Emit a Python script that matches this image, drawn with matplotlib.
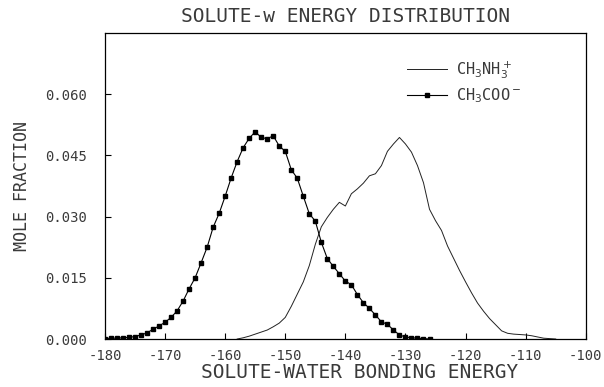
import matplotlib
matplotlib.use("Agg")
import matplotlib.pyplot as plt
import numpy as np

# === Data ===
# CH3COO- : one point per energy unit
acetate_energy = np.arange(-180, -125)
acetate_frac = [
    0.0001, 0.0002, 0.0002, 0.0003, 0.0004, 0.0006, 0.0010, 0.0015, 0.0024, 0.0032,
    0.0041, 0.0053, 0.0069, 0.0093, 0.0123, 0.0150, 0.0187, 0.0225, 0.0274, 0.0308,
    0.0350, 0.0395, 0.0435, 0.0469, 0.0492, 0.0508, 0.0494, 0.0491, 0.0498, 0.0473,
    0.0460, 0.0415, 0.0394, 0.0350, 0.0307, 0.0289, 0.0237, 0.0197, 0.0178, 0.0160,
    0.0142, 0.0133, 0.0109, 0.0089, 0.0075, 0.0059, 0.0042, 0.0036, 0.0022, 0.0010,
    0.0005, 0.0003, 0.0002, 0.0001, 0.0000,
]

# CH3NH3+ : thin line
ammonium_energy = np.arange(-158, -104)
ammonium_frac = [
    0.0000, 0.0003, 0.0007, 0.0012, 0.0017, 0.0022, 0.0030, 0.0039, 0.0053, 0.0080,
    0.0110, 0.0140, 0.0180, 0.0232, 0.0275, 0.0298, 0.0318, 0.0335, 0.0326, 0.0356,
    0.0368, 0.0382, 0.0400, 0.0405, 0.0425, 0.0460, 0.0478, 0.0494, 0.0478, 0.0458,
    0.0425, 0.0383, 0.0318, 0.0290, 0.0266, 0.0228, 0.0198, 0.0168, 0.0140, 0.0113,
    0.0088, 0.0068, 0.0050, 0.0035, 0.0020, 0.0014, 0.0012, 0.0011, 0.0010, 0.0008,
    0.0005, 0.0002, 0.0001, 0.0000,
]

x_ticks = np.arange(-180, -99, 10)
y_ticks = [0.000, 0.015, 0.030, 0.045, 0.060]

plt.rcParams['font.family'] = ['DejaVu Sans Mono', 'DejaVu Sans']
txt_color = '#3a3a3a'

fig = plt.figure(figsize=(6.04, 3.87), dpi=100)
ax = fig.add_axes([0.1738, 0.124, 0.796, 0.7907])

ax.plot(ammonium_energy, ammonium_frac, color='#222222', linewidth=0.7,
        label='CH$_3$NH$_3^+$')
ax.plot(acetate_energy, acetate_frac, color='black', linewidth=0.8,
        marker='s', markersize=3.2, label='CH$_3$COO$^-$')

ax.set_xlim(-180, -100)
ax.set_ylim(0, 0.075)
ax.set_xticks(x_ticks)
ax.set_xticklabels([str(v) for v in x_ticks])
ax.set_yticks(y_ticks)
ax.set_yticklabels(['%.3f' % v for v in y_ticks])
ax.tick_params(direction='in', length=4, width=0.8, labelsize=10,
               labelcolor=txt_color, pad=7)
ax.tick_params(axis='y', pad=13)
for sp in ax.spines.values():
    sp.set_linewidth(0.9)

ax.set_title('SOLUTE-w ENERGY DISTRIBUTION', fontsize=14, color=txt_color, pad=8)
ax.set_xlabel('SOLUTE-WATER BONDING ENERGY', fontsize=14, color=txt_color)
ax.xaxis.set_label_coords(0.53, -0.08)
ax.set_ylabel('MOLE FRACTION', fontsize=12, color=txt_color, labelpad=10)

ax.legend(loc='upper left', bbox_to_anchor=(0.60, 0.96), frameon=False,
          fontsize=11, handlelength=2.6, handletextpad=0.6, labelspacing=0.35,
          labelcolor=txt_color)

fig.savefig('out.png', dpi=100)
